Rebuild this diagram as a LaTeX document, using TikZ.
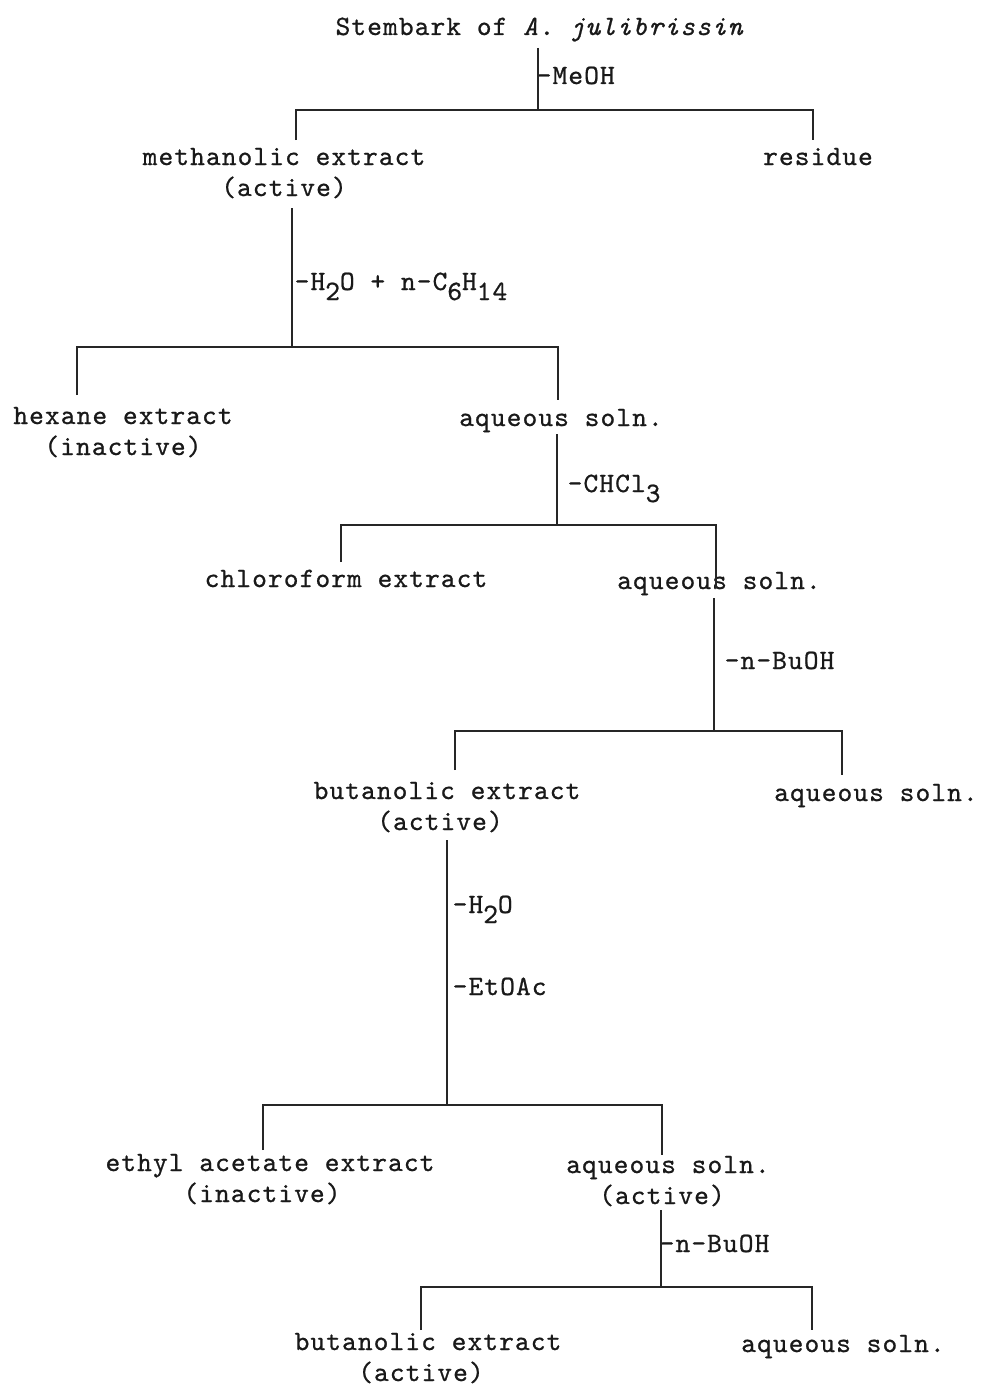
\documentclass[tikz,border=0pt]{standalone}
\usepackage{fontspec}
\setmainfont{lmmono10-regular.otf}[ItalicFont=lmmono10-italic.otf,LetterSpace=4,FakeBold=0.8]
\newcommand{\lowr}[1]{\raisebox{-10pt}{#1}}
\begin{document}
\begin{tikzpicture}[x=1pt,y=-1pt,line width=1.5pt,
  txt/.style={anchor=base,inner sep=0pt,font=\fontsize{28}{34}\selectfont,text=black!90},
  lbl/.style={anchor=base west,inner sep=0pt,font=\fontsize{28}{34}\selectfont,text=black!90},
  conn/.style={draw=black!85}]
\useasboundingbox (0,0) rectangle (983,1389);
% texts
\node[txt] (src) at (540,35) {Stembark of \textit{A. julibrissin}};
\node[lbl] (meoh) at (536,84) {-MeOH};
\node[txt] (meth) at (284,165) {methanolic extract};
\node[txt] (methA) at (284,196) {(active)};
\node[txt] (res) at (818,165) {residue};
\node[lbl] (hx) at (294,290) {-H\lowr{2}O + n-C\lowr{6}H\lowr{14}};
\node[txt] (hex) at (123,424) {hexane extract};
\node[txt] (hexA) at (123,455) {(inactive)};
\node[txt] (aq1) at (561,426) {aqueous soln.};
\node[lbl] (chcl) at (567,492) {-CHCl\lowr{3}};
\node[txt] (chl) at (346,587) {chloroform extract};
\node[txt] (aq2) at (719,589) {aqueous soln.};
\node[lbl] (bu1) at (724,669) {-n-BuOH};
\node[txt] (but1) at (447,799) {butanolic extract};
\node[txt] (but1A) at (440,830) {(active)};
\node[txt] (aq3) at (876,801) {aqueous soln.};
\node[lbl] (h2o) at (452,913) {-H\lowr{2}O};
\node[lbl] (etoac) at (452,995) {-EtOAc};
\node[txt] (eth) at (270,1171) {ethyl acetate extract};
\node[txt] (ethA) at (262,1202) {(inactive)};
\node[txt] (aq4) at (668,1173) {aqueous soln.};
\node[txt] (aq4A) at (662,1204) {(active)};
\node[lbl] (bu2) at (659,1252) {-n-BuOH};
\node[txt] (but2) at (428,1350) {butanolic extract};
\node[txt] (but2A) at (421,1381) {(active)};
\node[txt] (aq5) at (843,1352) {aqueous soln.};
% split 1
\coordinate (s1t) at (538,48); \coordinate (s1b) at (538,110);
\coordinate (s1l) at (296,140); \coordinate (s1r) at (813,140);
\draw[conn] (s1t) -- (s1b);
\draw[conn] (s1l) |- (s1b) -| (s1r);
% split 2
\coordinate (s2t) at (292,208); \coordinate (s2b) at (292,347);
\coordinate (s2l) at (77,395); \coordinate (s2r) at (558,400);
\draw[conn] (s2t) -- (s2b);
\draw[conn] (s2l) |- (s2b) -| (s2r);
% split 3
\coordinate (s3t) at (557,434); \coordinate (s3b) at (557,525);
\coordinate (s3l) at (341,562); \coordinate (s3r) at (716,588);
\draw[conn] (s3t) -- (s3b);
\draw[conn] (s3l) |- (s3b) -| (s3r);
% split 4
\coordinate (s4t) at (714,598); \coordinate (s4b) at (714,731);
\coordinate (s4l) at (455,770); \coordinate (s4r) at (842,775);
\draw[conn] (s4t) -- (s4b);
\draw[conn] (s4l) |- (s4b) -| (s4r);
% split 5
\coordinate (s5t) at (447,840); \coordinate (s5b) at (447,1105);
\coordinate (s5l) at (263,1150); \coordinate (s5r) at (662,1155);
\draw[conn] (s5t) -- (s5b);
\draw[conn] (s5l) |- (s5b) -| (s5r);
% split 6
\coordinate (s6t) at (661,1210); \coordinate (s6b) at (661,1287);
\coordinate (s6l) at (421,1330); \coordinate (s6r) at (812,1330);
\draw[conn] (s6t) -- (s6b);
\draw[conn] (s6l) |- (s6b) -| (s6r);
\end{tikzpicture}
\end{document}
